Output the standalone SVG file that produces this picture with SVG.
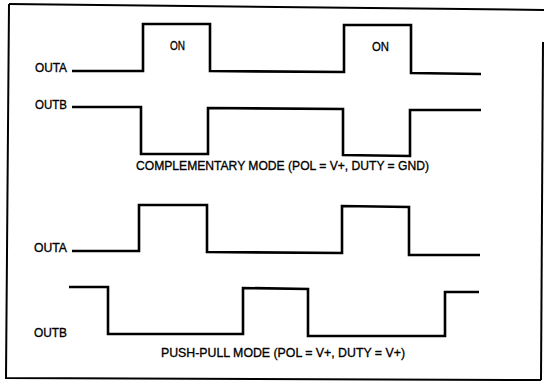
<svg xmlns="http://www.w3.org/2000/svg" width="544" height="383" viewBox="0 0 544 383">
<style>
.w{fill:none;stroke:#000;stroke-width:2.6;stroke-linejoin:miter}
.f{fill:none;stroke:#000;stroke-width:2}
text{font-family:"Liberation Sans",Arial,sans-serif;font-size:13.5px;fill:#000;stroke:#000;stroke-width:0.35}
</style>
<rect width="544" height="383" fill="#fff"/>
<g id="frame">
<path class="f" d="M9,4 L544,10"/>
<path class="f" d="M9,4 L6,378 L541,380"/>
<path class="f" d="M543,42 L541,380"/>
</g>
<g id="labels">
<text x="35" y="72" textLength="32" lengthAdjust="spacingAndGlyphs">OUTA</text>
<text x="35" y="109" textLength="32" lengthAdjust="spacingAndGlyphs">OUTB</text>
<text x="170" y="50" textLength="15" lengthAdjust="spacingAndGlyphs">ON</text>
<text x="372" y="51" textLength="17" lengthAdjust="spacingAndGlyphs">ON</text>
<text x="136" y="170" textLength="293" lengthAdjust="spacingAndGlyphs">COMPLEMENTARY MODE (POL = V+, DUTY = GND)</text>
<text x="34" y="252" textLength="33" lengthAdjust="spacingAndGlyphs">OUTA</text>
<text x="34" y="337" textLength="33" lengthAdjust="spacingAndGlyphs">OUTB</text>
<text x="161" y="357" textLength="244" lengthAdjust="spacingAndGlyphs">PUSH-PULL MODE (POL = V+, DUTY = V+)</text>
</g>
<g id="connectors">
<path id="outa-comp" class="w" d="M72,71 L143,71 L143,24 L210,24 L210,71 L344,72 L344,25 L411,25 L411,73 L481,74"/>
<path id="outb-comp" class="w" d="M72,107 L141,107 L141,154 L208,154 L208,108 L343,109 L343,155 L410,156 L410,110 L481,110"/>
<path id="outa-pp" class="w" d="M72,251 L139,251 L139,205 L207,205 L207,252 L342,253 L342,206 L409,207 L409,255 L480,255"/>
<path id="outb-pp" class="w" d="M69,287 L108,287 L108,334 L243,334 L243,288 L308,289 L308,336 L445,336 L445,292 L479,292"/>
</g>
</svg>
